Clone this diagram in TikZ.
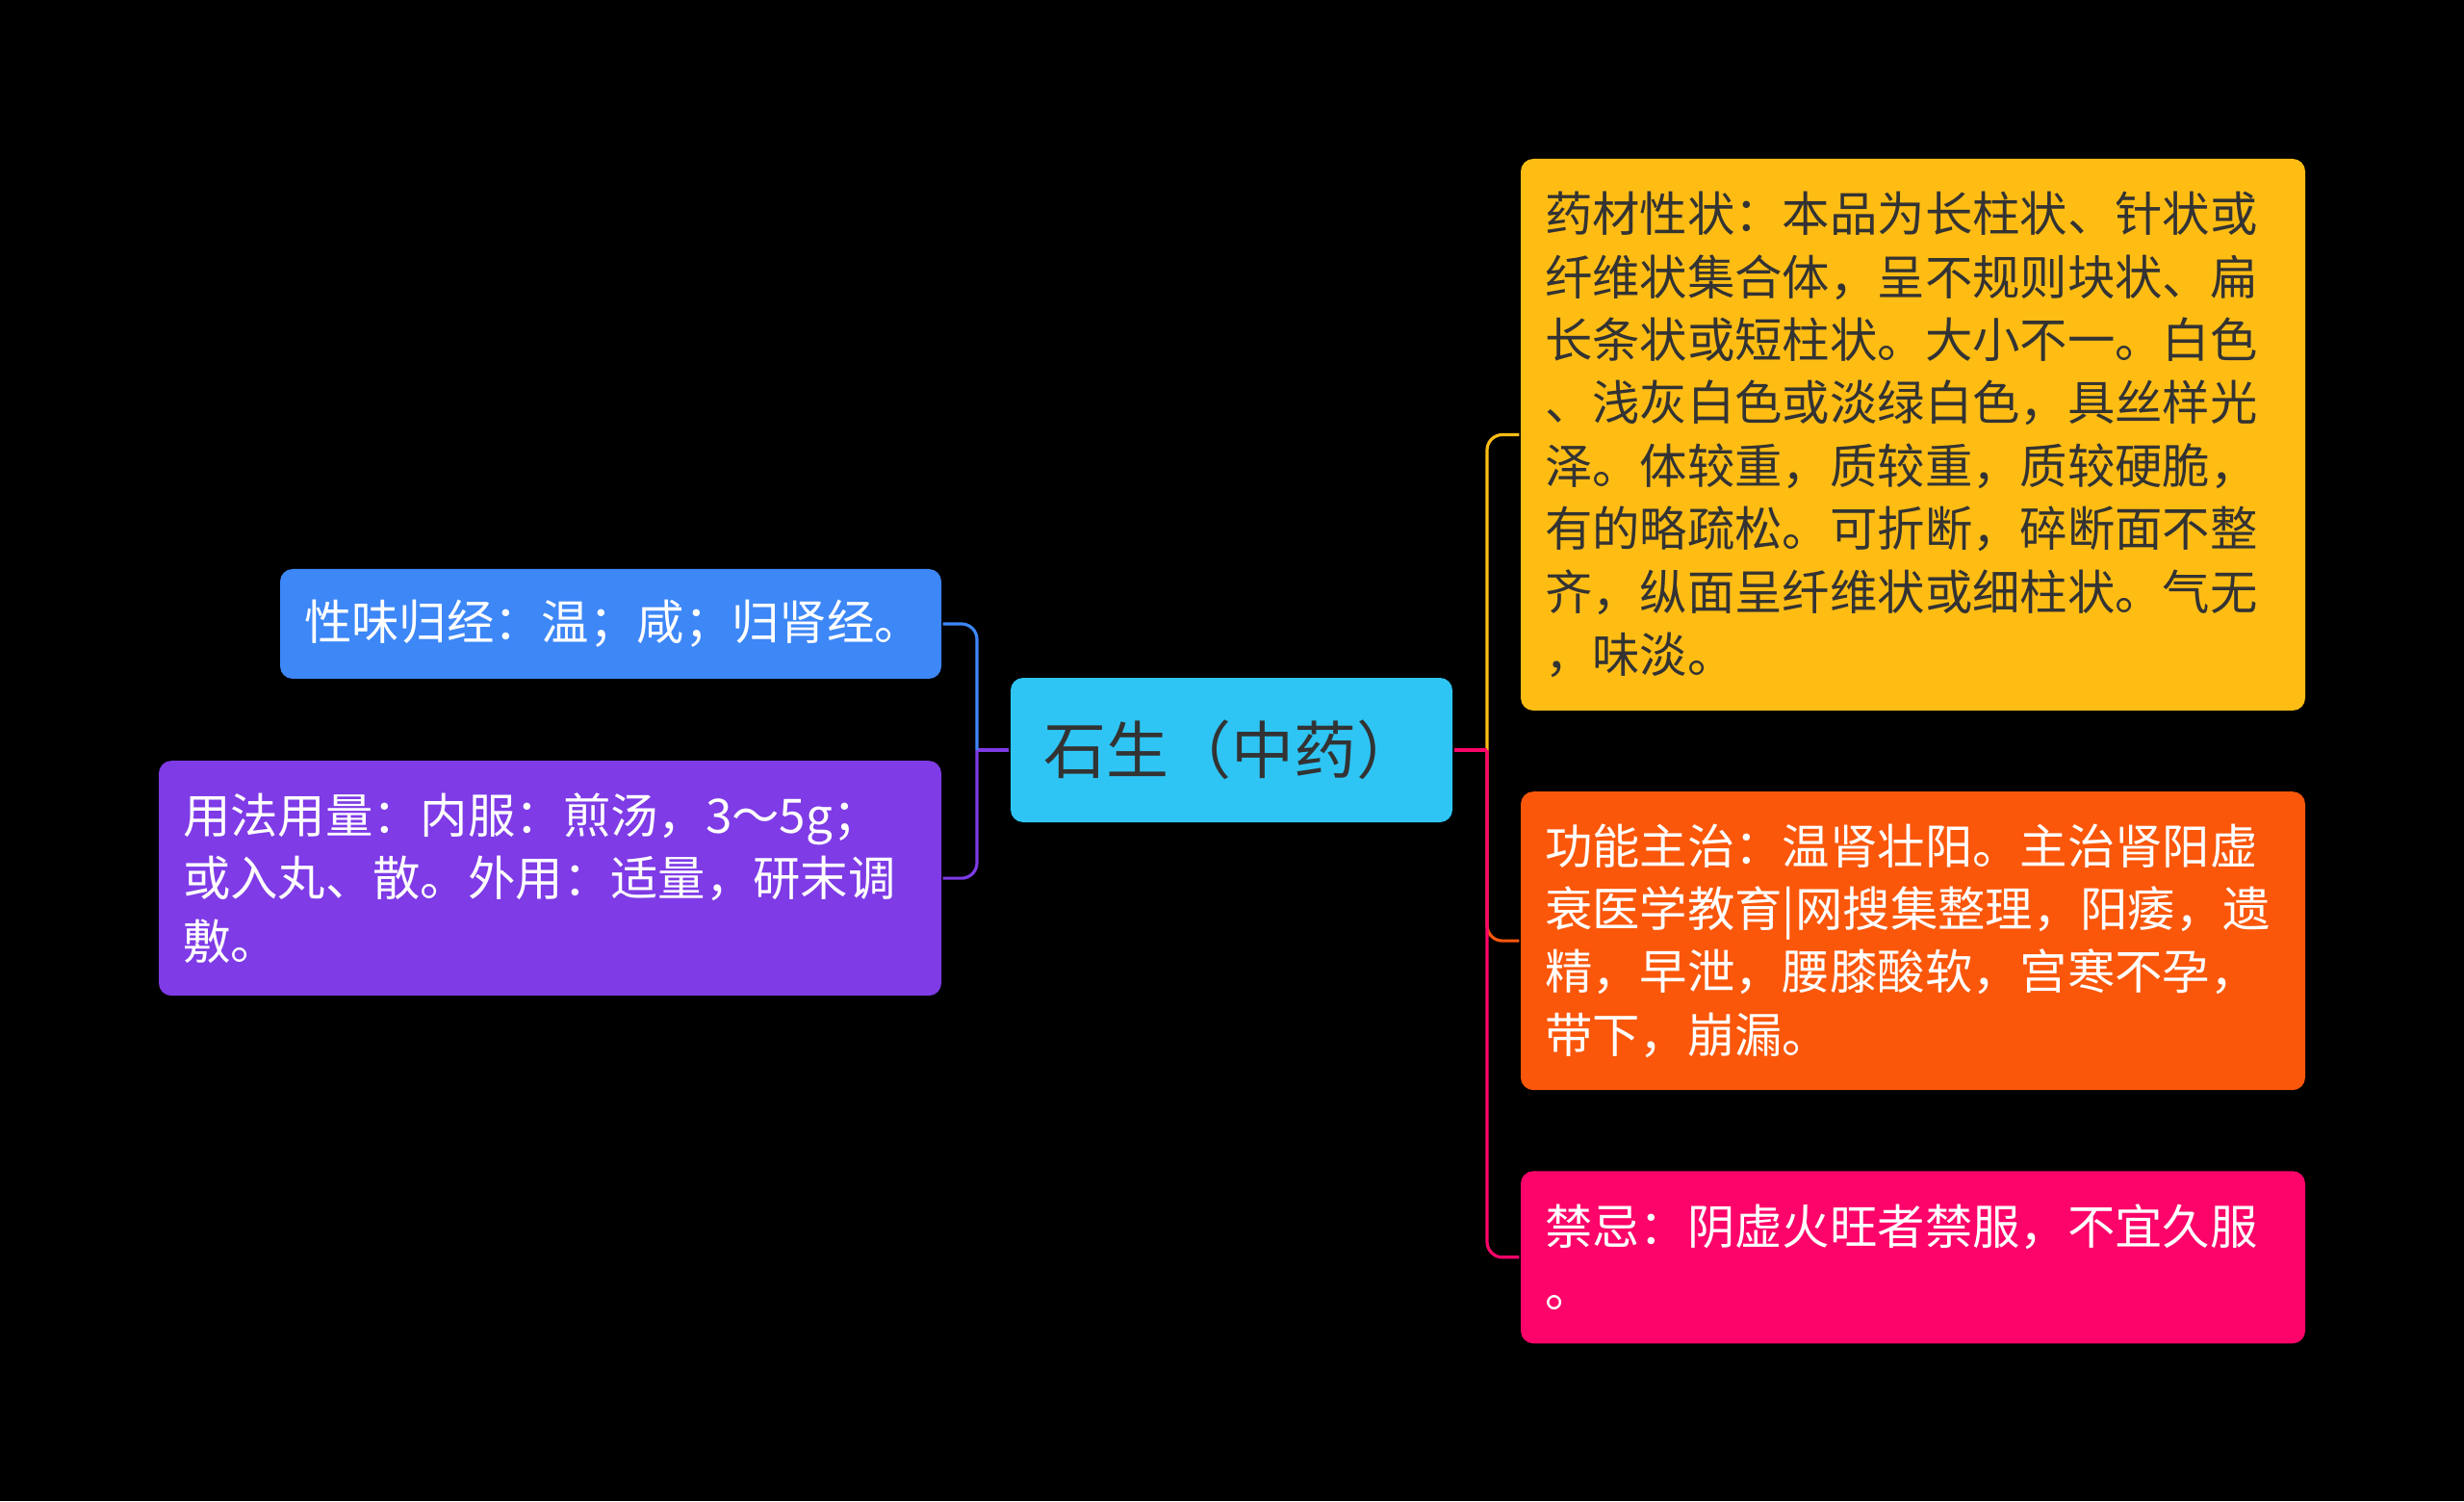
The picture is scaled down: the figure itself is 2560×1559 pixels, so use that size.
\documentclass[tikz,border=0pt]{standalone}
\usepackage{fontspec}
\setmainfont{Noto Sans CJK SC}
\usetikzlibrary{positioning}
\definecolor{rootcyan}{HTML}{2EC5F5}
\definecolor{tasteblue}{HTML}{3D87F7}
\definecolor{usagepurple}{HTML}{7E3BE6}
\definecolor{lookyellow}{HTML}{FFBD14}
\definecolor{effectorange}{HTML}{FA570B}
\definecolor{taboopink}{HTML}{FC0469}
\definecolor{darktext}{HTML}{333333}

\begin{document}
\begin{tikzpicture}[x=0.1mm,y=0.1mm,line width=0.9pt,
    box/.style={rectangle,rounded corners=1.3mm,inner xsep=2.5mm,inner ysep=0pt,align=left,
      font=\fontsize{14.05pt}{18.6pt}\selectfont},
    root node/.style={box,fill=rootcyan,text=darktext,minimum width=45.9mm,minimum height=15mm,
      align=center,font=\fontsize{18.5pt}{21pt}\selectfont},
    side node/.style={box,text width=#1,text=white},
    elbow/.style={rounded corners=1.6mm,to path={|- (\tikztotarget)}}]

  \fill[black] (0,0) rectangle (2560,1559);
  \useasboundingbox (0,0) rectangle (2560,1559);

  \node[root node] (root) at (1279.5,780) {石生（中药）};

  \node[side node=63.7mm,fill=tasteblue,minimum height=11.4mm] (taste) at (634.5,911)
    {性味归经：温；咸；归肾经。};
  \node[side node=76.3mm,fill=usagepurple,minimum height=24.4mm,
    below=8.2mm of taste.south east,anchor=north east] (usage)
    {用法用量：内服：煎汤，3～5g；\\或入丸、散。外用：适量，研末调\\敷。};

  \node[side node=76.5mm,fill=lookyellow,text=darktext,minimum height=57.3mm] (look) at (1987.5,1107.5)
    {药材性状：本品为长柱状、针状或\\纤维状集合体，呈不规则块状、扁\\长条状或短柱状。大小不一。白色\\、浅灰白色或淡绿白色，具丝样光\\泽。体较重，质较重，质较硬脆，\\有的略疏松。可折断，碎断面不整\\齐，纵面呈纤维状或细柱状。气无\\，味淡。};
  \node[side node=76.5mm,fill=effectorange,minimum height=31mm,below=8.1mm of look] (effect)
    {功能主治：温肾壮阳。主治肾阳虚\\衰医学教育|网搜集整理，阳痿，遗\\精，早泄，腰膝酸软，宫寒不孕，\\带下，崩漏。};
  \node[side node=76.5mm,fill=taboopink,minimum height=17.9mm,below=8.1mm of effect] (taboo)
    {禁忌：阴虚火旺者禁服，不宜久服\\。};

  \coordinate (lj) at (1015,780);
  \coordinate (rj) at (1545,780);

  \path (root.west) edge[usagepurple] (lj)
        (lj) edge[elbow,tasteblue] (taste.east)
        (lj) edge[elbow,usagepurple] (usage.east)
        (rj) edge[elbow,lookyellow] (look.west)
        (rj) edge[elbow,effectorange] (effect.west)
        (rj) edge[elbow,taboopink] (taboo.west)
        (root.east) edge[taboopink] (rj);
\end{tikzpicture}
\end{document}
